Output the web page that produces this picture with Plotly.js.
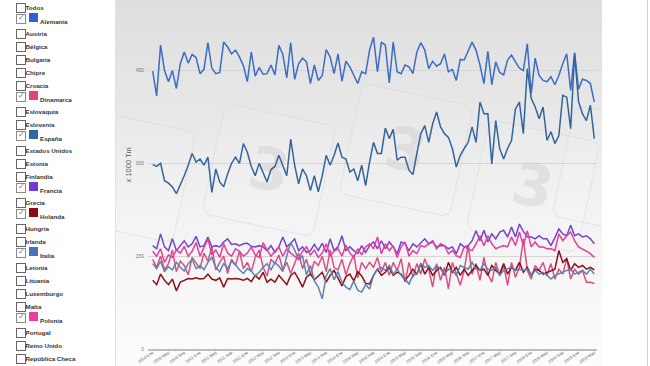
<!DOCTYPE html>
<html>
<head>
<meta charset="utf-8">
<script src="https://cdn.plot.ly/plotly-3.0.1.min.js"></script>
<style>
  html, body { margin:0; padding:0; background:#fff; width:650px; height:366px; overflow:hidden; }
  #bg { position:absolute; left:115px; top:0; width:486px; height:366px; overflow:hidden;
        background:linear-gradient(to bottom, #dedede 0%, #e9e9e9 35%, #f3f3f3 60%, #fcfcfc 100%);
        border-left:1px solid #e2e2e2; }
  .wm { position:absolute; width:112px; height:112px; border-radius:10px;
        border:1px solid rgba(215,215,215,0.55); background:rgba(255,255,255,0.08);
        display:flex; align-items:center; justify-content:center;
        font-family:'DejaVu Sans', sans-serif; font-weight:bold; font-size:58px; color:rgba(150,150,150,0.16); }
  #rline { position:absolute; left:647px; top:0; width:1px; height:366px; background:#cfcfcf; }
  #plot { position:absolute; left:0; top:0; width:650px; height:366px; }
  #panel { position:absolute; left:0; top:0; width:115px; height:366px; background:#fff;
           font-family:'Liberation Sans', Arial, sans-serif; font-weight:bold; font-size:6.2px; color:#333; }
  .row { position:absolute; left:0; height:13px; white-space:nowrap; }
  .box { position:absolute; left:16px; width:8px; height:8px; border:1px solid #666; background:#fff; }
  .box.on { border-color:#8a8a8a; }
  .box.on::after { content:'\2713'; position:absolute; left:0.5px; top:-2px; font-size:8px; color:#777; font-weight:normal; }
  .sw { position:absolute; left:29px; width:9px; height:9px; }
  .lbl { position:absolute; line-height:8px; }
</style>
</head>
<body>
<div id="bg"></div>
<div id="rline"></div>
<div id="plot"></div>
<div id="panel"></div>
<script>
// ---------- data ----------
const monthNames = ["Ene","Feb","Mar","Abr","May","Jun","Jul","Ago","Sep","Oct","Nov","Dic"];
const startYear = 2010;
const nMonths = 113; // 2010 Ene .. 2019 May

const countries = ["Todos","Alemania","Austria","Bélgica","Bulgaria","Chipre","Croacia","Dinamarca","Eslovaquia","Eslovenia","España","Estados Unidos","Estonia","Finlandia","Francia","Grecia","Holanda","Hungría","Irlanda","Italia","Letonia","Lituania","Luxemburgo","Malta","Polonia","Portugal","Reino Unido","República Checa"];

const seriesColors = {
  "Alemania":"#3b6cc6", "Dinamarca":"#dc4f82", "España":"#33659d", "Francia":"#7444d0",
  "Holanda":"#8c1018", "Italia":"#5b84b3", "Polonia":"#e33f9c"
};
const swatchColors = {
  "Alemania":"#2f62d0", "Dinamarca":"#e0457e", "España":"#2f65a0", "Francia":"#7538d4",
  "Holanda":"#8b0d10", "Italia":"#4a72b6", "Polonia":"#ef3aa0"
};

const alemania = [449,409,491,450,432,450,421,461,480,462,476,471,445,452,495,454,445,447,496,488,477,483,472,458,432,480,441,455,444,445,459,443,491,476,438,495,436,461,470,464,
429,459,434,442,484,472,445,477,433,465,456,442,429,448,445,483,504,448,496,491,430,496,448,445,459,456,445,480,495,483,453,465,457,461,477,448,
452,434,468,467,483,496,483,459,429,481,427,464,447,443,467,475,464,454,450,493,413,470,442,434,432,440,427,442,461,477,418,479,420,436,434,429,399];

const espana = [298,295,300,272,268,262,251,265,280,297,316,302,307,297,310,253,291,270,262,283,300,310,300,332,318,295,280,300,285,270,290,295,
313,297,280,339,297,267,291,280,256,280,254,280,313,297,313,333,310,307,286,291,272,297,264,302,334,316,316,357,340,355,305,310,310,289,282,316,348,361,
334,364,383,359,348,342,324,294,313,324,334,359,334,399,380,380,299,369,324,307,324,337,388,399,348,453,405,391,372,391,337,351,332,345,410,407,356,477,400,380,369,394,340];

const francia = [167,162,186,165,159,178,159,167,175,165,170,182,165,167,181,165,167,165,173,178,169,170,167,170,171,166,165,167,165,159,167,156,165,181,165,171,178,159,165,156,159,169,159,171,156,178,159,165,183,159,165,159,154,167,156,167,173,
162,175,162,173,165,154,173,170,159,170,165,171,178,170,173,165,167,167,162,165,154,170,165,167,175,191,175,192,173,186,178,189,192,181,197,181,202,190,181,181,178,183,178,178,167,180,194,186,183,200,183,186,181,183,178,170];

const polonia = [158,150,162,140,152,148,160,155,166,150,158,172,150,165,178,152,160,148,170,155,150,162,158,150,155,165,152,148,172,160,150,158,165,150,162,155,150,145,158,165,152,160,148,155,170,150,158,162,
150,168,155,148,162,152,165,
170,162,181,154,170,159,167,148,165,173,150,159,154,167,165,170,175,162,170,167,154,159,151,148,165,162,159,170,183,167,183,170,162,165,167,165,181,167,189,167,191,165,173,165,165,162,162,159,186,175,183,189,175,165,162,158,154,148];

const dinamarca = [145,132,150,128,138,160,125,142,135,120,148,138,130,155,142,165,128,140,150,122,145,135,158,130,140,125,148,160,132,118,145,138,152,128,140,122,138,155,130,145,120,142,135,150,125,160,132,128,145,120,138,152,115,140,130,
140,132,148,124,140,119,140,127,146,108,140,116,138,121,146,129,100,138,111,132,97,140,121,103,127,168,121,138,111,148,121,108,140,119,135,103,140,116,132,178,127,113,135,127,140,119,138,113,129,121,146,113,129,121,127,108,108,106];

const italia = [138,130,142,125,133,128,140,132,126,138,145,130,135,128,140,148,132,125,138,130,142,136,128,122,130,126,118,124,132,138,128,140,134,125,150,172,
160,145,150,120,135,110,100,81,118,130,112,125,108,100,96,110,95,92,104,
97,119,129,132,127,135,121,129,119,113,105,119,121,138,132,135,127,135,129,121,129,127,119,135,132,129,140,129,127,138,129,127,132,119,127,129,132,127,129,127,129,119,127,121,124,119,113,119,121,124,127,129,121,124,127,121,129,121];

const holanda = [111,104,121,111,104,113,94,108,111,114,113,115,113,114,121,113,111,115,100,114,113,114,113,111,114,109,119,113,124,108,113,108,119,111,104,119,124,113,100,116,
121,112,118,124,108,119,127,114,102,117,121,110,125,118,106,
105,119,129,119,124,132,119,124,121,111,119,129,121,138,121,132,119,127,132,119,140,124,132,119,129,119,127,135,127,129,119,135,127,121,138,121,132,127,140,124,132,119,129,127,121,124,127,129,159,140,146,127,138,132,135,129,132,128];

const yTickVals = [0,150,300,450];
const yTitle = "x 1000 Tm";

// ---------- categories ----------
const months = [];
for (let i = 0; i < nMonths; i++) {
  const y = startYear + Math.floor(i / 12);
  months.push(y + " " + monthNames[i % 12]);
}
const tickCats = months.filter((m, i) => i % 4 === 0);

const seriesList = [
  ["Alemania", alemania], ["Dinamarca", dinamarca], ["España", espana], ["Francia", francia],
  ["Holanda", holanda], ["Italia", italia], ["Polonia", polonia]
];

const traces = seriesList.map(([name, vals]) => ({
  type: 'scatter', mode: 'lines', name: name, x: months, y: vals,
  line: { color: seriesColors[name], width: 1.5 }, hoverinfo: 'skip'
}));

const layout = {
  width: 650, height: 366,
  margin: { l: 148, r: 53, t: 0, b: 17, pad: 0 },
  paper_bgcolor: 'rgba(0,0,0,0)', plot_bgcolor: 'rgba(0,0,0,0)',
  showlegend: false,
  xaxis: {
    type: 'category', range: [-1.19, 112.68], automargin: false,
    tickmode: 'array', tickvals: tickCats, ticktext: tickCats, tickangle: -35,
    tickfont: { family: 'Liberation Sans, Arial, sans-serif', size: 4.2, color: '#666' },
    showgrid: false, zeroline: false, showline: true, linecolor: '#bdbdbd', linewidth: 1.5,
    ticks: '', ticklabelstandoff: -2, fixedrange: true
  },
  yaxis: {
    range: [0, 564], automargin: false,
    tickmode: 'array', tickvals: yTickVals, ticktext: yTickVals.map(String),
    tickfont: { family: 'Liberation Sans, Arial, sans-serif', size: 5, color: '#777' },
    showgrid: true, gridcolor: '#d6d6d6', gridwidth: 1, zeroline: false, showline: false,
    ticks: '', ticklabelstandoff: 3, fixedrange: true
  },
  annotations: [{
    xref: 'paper', yref: 'paper', x: -0.0445, y: 0.526, text: yTitle, showarrow: false,
    textangle: -90, xanchor: 'center', yanchor: 'middle',
    font: { family: 'Liberation Sans, Arial, sans-serif', size: 7.5, color: '#555' }
  }]
};

Plotly.newPlot('plot', traces, layout, { staticPlot: true, displayModeBar: false });

// ---------- watermark (background decoration) ----------
const bg = document.getElementById('bg');
[[128,176,12,false],[268,170,12,true],[405,150,12,true],[532,186,12,true],[618,172,12,false]].forEach(([cx, cy, a, glyph]) => {
  const d = document.createElement('div');
  d.className = 'wm';
  d.style.left = (cx - 115 - 57) + 'px';
  d.style.top = (cy - 57) + 'px';
  d.style.transform = 'rotate(' + a + 'deg)';
  if (glyph) d.textContent = '3';
  bg.appendChild(d);
});

// ---------- country selector panel ----------
const panel = document.getElementById('panel');
countries.forEach((c, k) => {
  const rc = 7.5 + 13 * k;
  const on = c in swatchColors;
  const row = document.createElement('div');
  row.className = 'row';
  row.style.top = '0px';
  const box = document.createElement('div');
  box.className = 'box' + (on ? ' on' : '');
  box.style.top = (rc - (on ? 6.5 : 4.5)) + 'px';
  row.appendChild(box);
  if (on) {
    const sw = document.createElement('div');
    sw.className = 'sw';
    sw.style.top = (rc - 8) + 'px';
    sw.style.background = swatchColors[c];
    row.appendChild(sw);
  }
  const lbl = document.createElement('div');
  lbl.className = 'lbl';
  lbl.style.left = (on ? 40 : 25.5) + 'px';
  lbl.style.top = (rc - 4 + (on ? 1.5 : 0)) + 'px';
  lbl.textContent = c;
  row.appendChild(lbl);
  panel.appendChild(row);
});
</script>
</body>
</html>
